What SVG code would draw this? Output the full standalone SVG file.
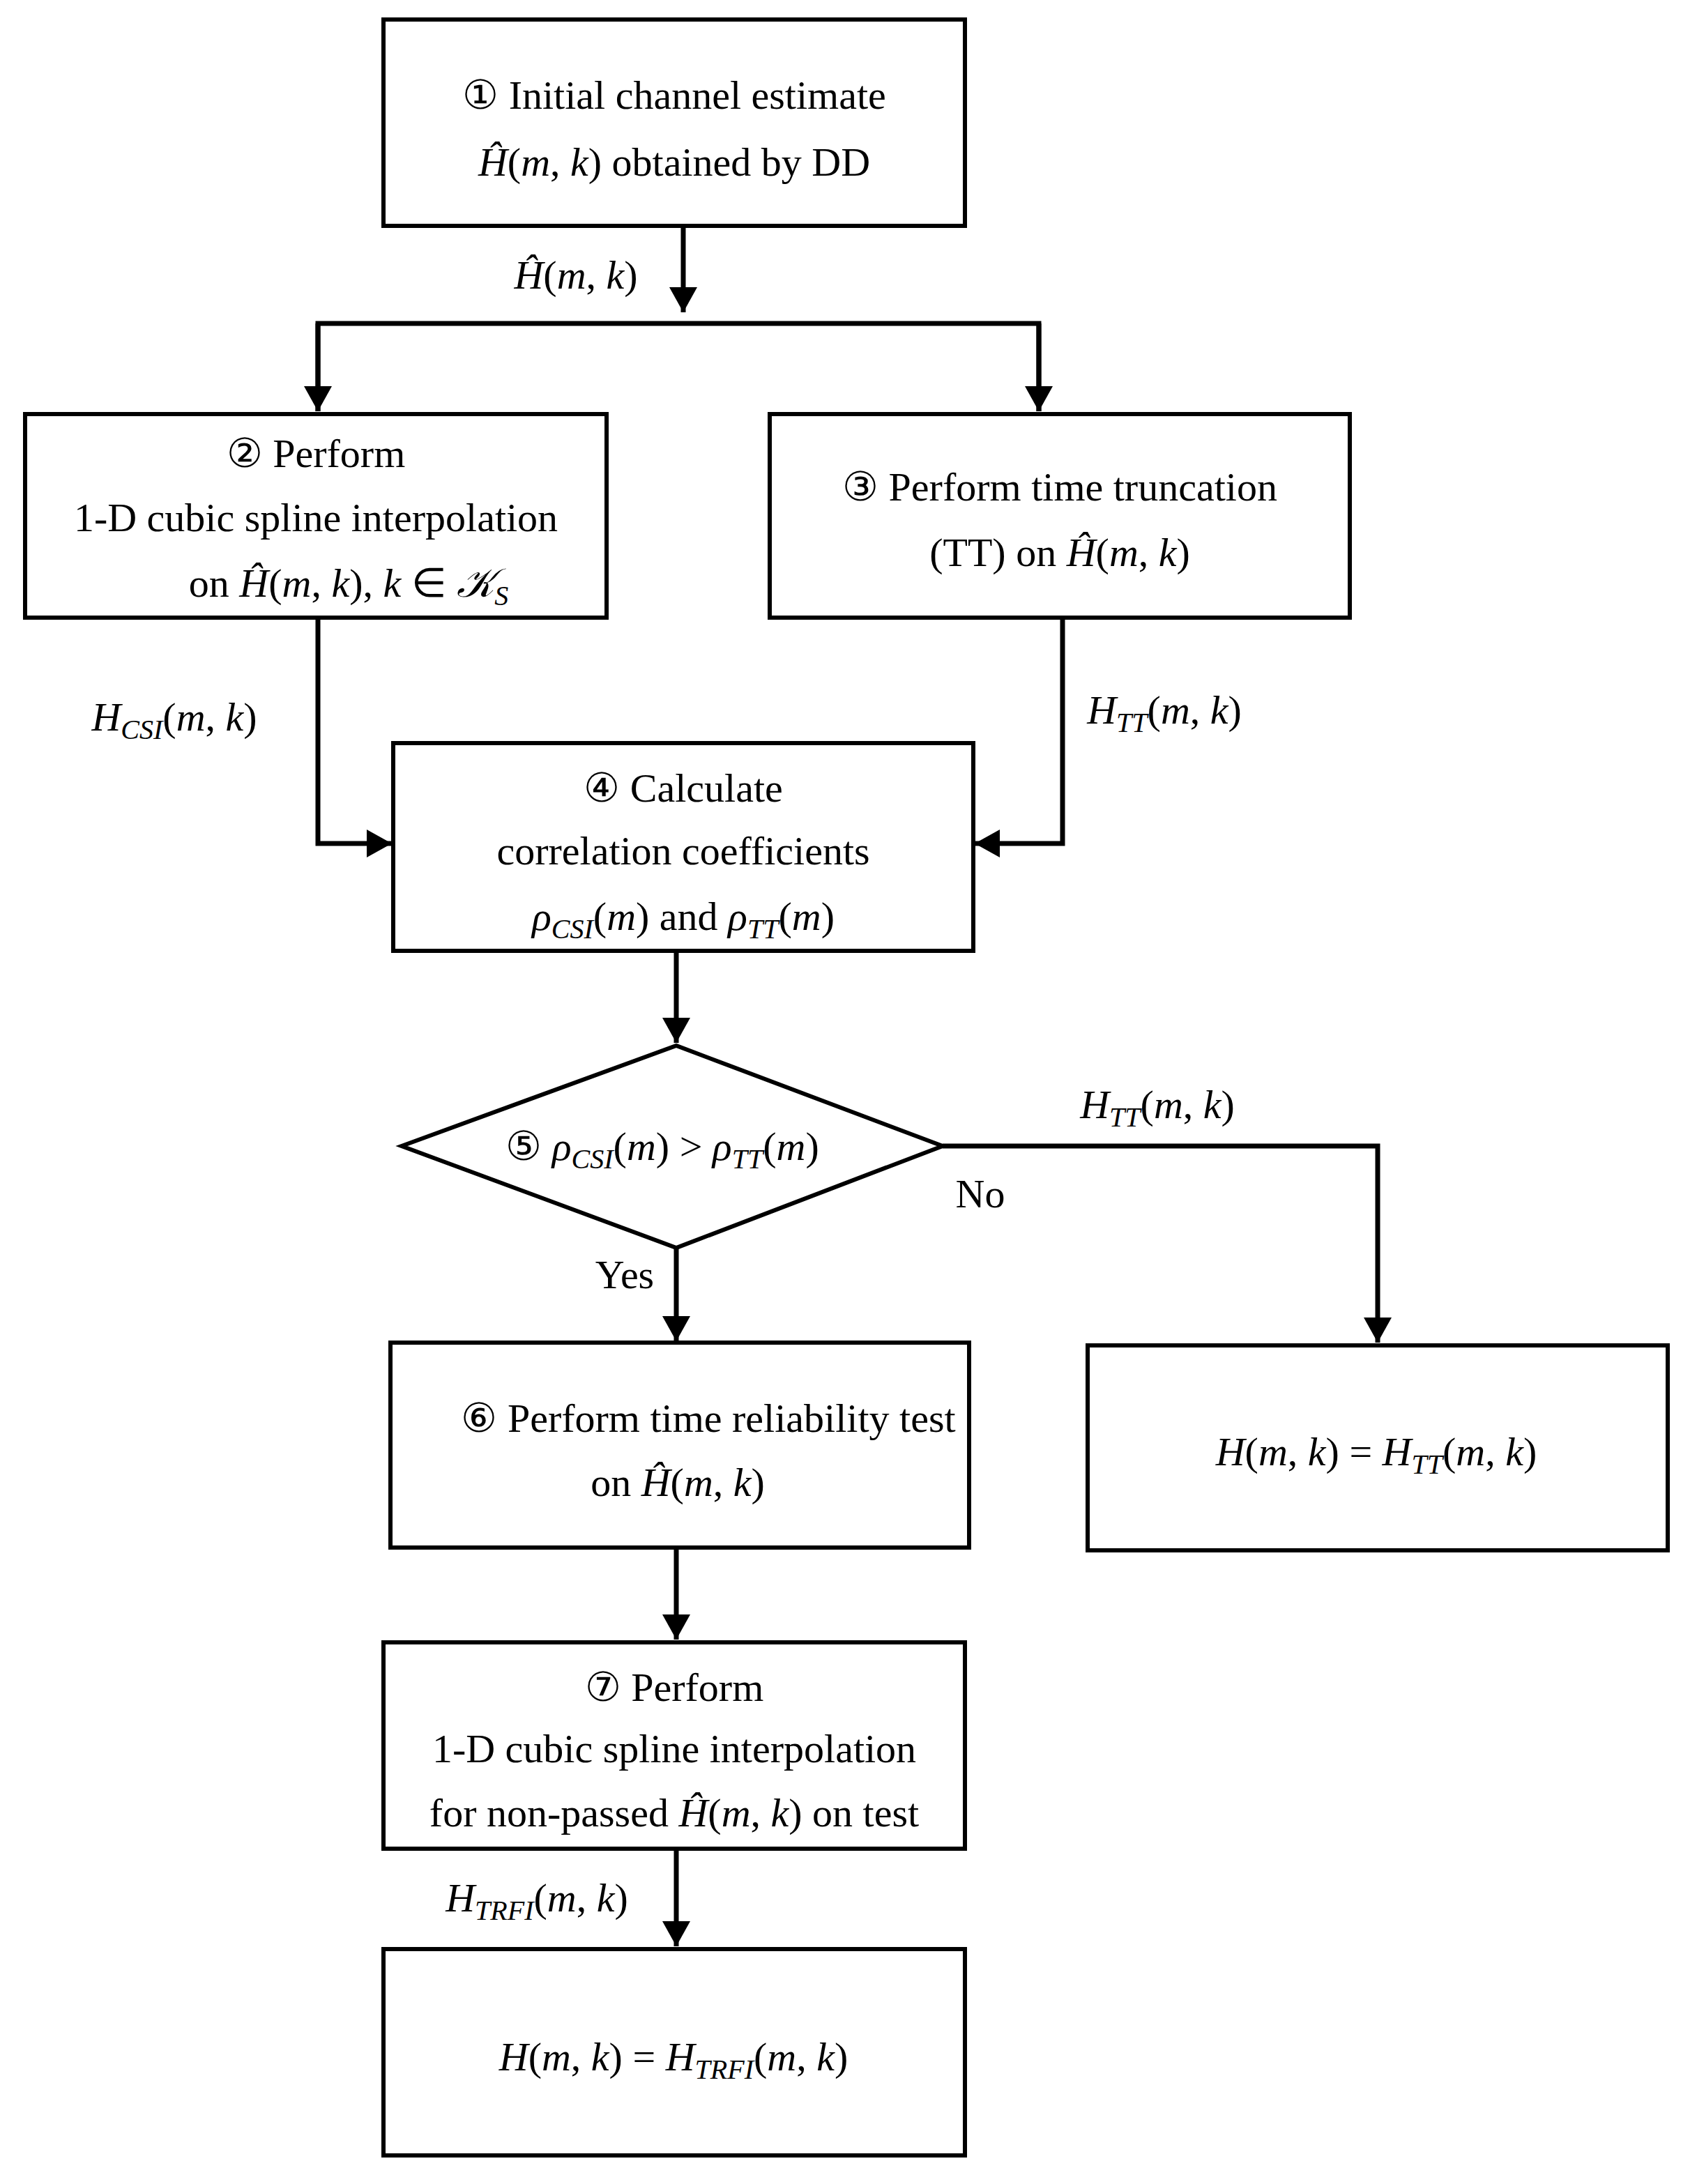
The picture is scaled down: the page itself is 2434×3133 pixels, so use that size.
<svg xmlns="http://www.w3.org/2000/svg" width="2434" height="3133" viewBox="0 0 2434 3133">
<style>
.b{fill:#fff;stroke:#000;stroke-width:6}
.c{fill:none;stroke:#000;stroke-width:7}
text{font-family:"Liberation Serif",serif;font-size:58px;fill:#000;text-anchor:middle}
.i{font-style:italic}
.s{font-style:italic;font-size:40px}
</style>
<defs>
<marker id="a" markerUnits="userSpaceOnUse" markerWidth="40" markerHeight="40" refX="36" refY="20" orient="auto">
<path d="M0,0 L36,20 L0,40 Z" fill="#000"/>
</marker>
</defs>
<rect width="2434" height="3133" fill="#fff"/>
<g id="connectors">
<path class="c" d="M980,324 V448" marker-end="url(#a)"/>
<path class="c" d="M456,590 V464 H1490 V590"/>
<path class="c" d="M456,464 V590" marker-end="url(#a)"/>
<path class="c" d="M1490,464 V590" marker-end="url(#a)"/>
<path class="c" d="M456,886 V1210 H562" marker-end="url(#a)"/>
<path class="c" d="M1524,886 V1210 H1398" marker-end="url(#a)"/>
<path class="c" d="M970,1364 V1496" marker-end="url(#a)"/>
<path class="c" d="M1352,1644 H1976 V1926" marker-end="url(#a)"/>
<path class="c" d="M970,1790 V1924" marker-end="url(#a)"/>
<path class="c" d="M970,2220 V2352" marker-end="url(#a)"/>
<path class="c" d="M970,2652 V2792" marker-end="url(#a)"/>
<text x="826" y="414"><tspan class="i">Ĥ</tspan>(<tspan class="i">m</tspan>, <tspan class="i">k</tspan>)</text>
<text x="250" y="1048"><tspan class="i">H</tspan><tspan class="s" dy="12">CSI</tspan><tspan dy="-12">(</tspan><tspan class="i">m</tspan>, <tspan class="i">k</tspan>)</text>
<text x="1670" y="1038"><tspan class="i">H</tspan><tspan class="s" dy="12">TT</tspan><tspan dy="-12">(</tspan><tspan class="i">m</tspan>, <tspan class="i">k</tspan>)</text>
<text x="1660" y="1604"><tspan class="i">H</tspan><tspan class="s" dy="12">TT</tspan><tspan dy="-12">(</tspan><tspan class="i">m</tspan>, <tspan class="i">k</tspan>)</text>
<text x="1406" y="1732">No</text>
<text x="896" y="1848">Yes</text>
<text x="770" y="2742"><tspan class="i">H</tspan><tspan class="s" dy="12">TRFI</tspan><tspan dy="-12">(</tspan><tspan class="i">m</tspan>, <tspan class="i">k</tspan>)</text>
</g>
<g id="n1"><rect class="b" x="550" y="28" width="834" height="296"/>
<text x="967" y="156">① Initial channel estimate</text>
<text x="967" y="252"><tspan class="i">Ĥ</tspan>(<tspan class="i">m</tspan>, <tspan class="i">k</tspan>) obtained by DD</text></g>
<g id="n2"><rect class="b" x="36" y="594" width="834" height="292"/>
<text x="453" y="670">② Perform</text>
<text x="453" y="762">1-D cubic spline interpolation</text>
<text x="500" y="856">on <tspan class="i">Ĥ</tspan>(<tspan class="i">m</tspan>, <tspan class="i">k</tspan>),  <tspan class="i">k</tspan> ∈ <tspan class="i">𝒦</tspan><tspan class="s" dy="12">S</tspan></text></g>
<g id="n3"><rect class="b" x="1104" y="594" width="832" height="292"/>
<text x="1520" y="718">③ Perform time truncation</text>
<text x="1520" y="812">(TT) on <tspan class="i">Ĥ</tspan>(<tspan class="i">m</tspan>, <tspan class="i">k</tspan>)</text></g>
<g id="n4"><rect class="b" x="564" y="1066" width="832" height="298"/>
<text x="980" y="1150">④ Calculate</text>
<text x="980" y="1240">correlation coefficients</text>
<text x="980" y="1334"><tspan class="i">ρ</tspan><tspan class="s" dy="12">CSI</tspan><tspan dy="-12">(</tspan><tspan class="i">m</tspan>) and <tspan class="i">ρ</tspan><tspan class="s" dy="12">TT</tspan><tspan dy="-12">(</tspan><tspan class="i">m</tspan>)</text></g>
<g id="n5"><polygon class="b" points="576,1644 970,1500 1352,1644 970,1790"/>
<text x="950" y="1664">⑤ <tspan class="i">ρ</tspan><tspan class="s" dy="12">CSI</tspan><tspan dy="-12">(</tspan><tspan class="i">m</tspan>) &gt; <tspan class="i">ρ</tspan><tspan class="s" dy="12">TT</tspan><tspan dy="-12">(</tspan><tspan class="i">m</tspan>)</text></g>
<g id="n6"><rect class="b" x="560" y="1926" width="830" height="294"/>
<text x="1016" y="2054">⑥ Perform time reliability test</text>
<text x="972" y="2146">on <tspan class="i">Ĥ</tspan>(<tspan class="i">m</tspan>, <tspan class="i">k</tspan>)</text></g>
<g id="n6b"><rect class="b" x="1560" y="1930" width="832" height="294"/>
<text x="1974" y="2102"><tspan class="i">H</tspan>(<tspan class="i">m</tspan>, <tspan class="i">k</tspan>) = <tspan class="i">H</tspan><tspan class="s" dy="12">TT</tspan><tspan dy="-12">(</tspan><tspan class="i">m</tspan>, <tspan class="i">k</tspan>)</text></g>
<g id="n7"><rect class="b" x="550" y="2356" width="834" height="296"/>
<text x="967" y="2440">⑦ Perform</text>
<text x="967" y="2528">1-D cubic spline interpolation</text>
<text x="967" y="2620">for non-passed <tspan class="i">Ĥ</tspan>(<tspan class="i">m</tspan>, <tspan class="i">k</tspan>) on test</text></g>
<g id="n8"><rect class="b" x="550" y="2796" width="834" height="296"/>
<text x="966" y="2970"><tspan class="i">H</tspan>(<tspan class="i">m</tspan>, <tspan class="i">k</tspan>) = <tspan class="i">H</tspan><tspan class="s" dy="12">TRFI</tspan><tspan dy="-12">(</tspan><tspan class="i">m</tspan>, <tspan class="i">k</tspan>)</text></g>
</svg>
